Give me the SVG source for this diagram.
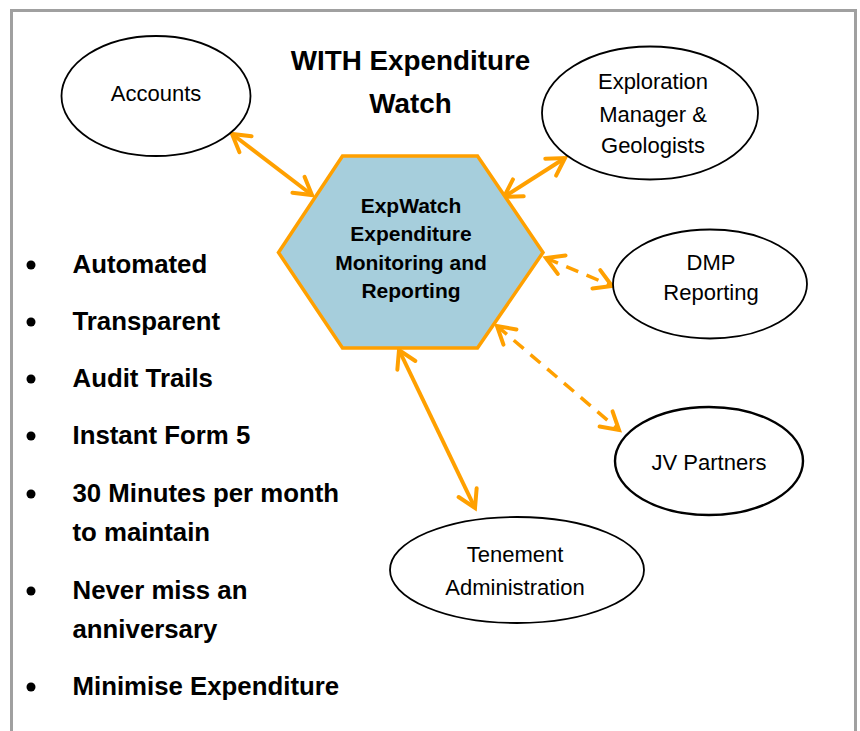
<svg xmlns="http://www.w3.org/2000/svg" width="860" height="731" viewBox="0 0 860 731">
<style>
.ell{fill:#fff;stroke:#000;stroke-width:1.8}
.lbl{font-family:"Liberation Sans",Arial,sans-serif;font-size:22px;fill:#000;text-anchor:middle}
.hex{fill:#A6CEDC;stroke:#FFA000;stroke-width:3.5;stroke-linejoin:miter}
.hext{font-family:"Liberation Sans",Arial,sans-serif;font-size:21px;font-weight:bold;fill:#000;text-anchor:middle}
.title{font-family:"Liberation Sans",Arial,sans-serif;font-size:27.8px;font-weight:bold;fill:#000;text-anchor:middle}
.bul{font-family:"Liberation Sans",Arial,sans-serif;font-size:25.8px;font-weight:bold;fill:#000}
.solid{fill:none;stroke:#FFA000;stroke-width:4;marker-start:url(#ah);marker-end:url(#ah)}
.dash{fill:none;stroke:#FFA000;stroke-width:3.5;stroke-dasharray:13 9;marker-start:url(#ah);marker-end:url(#ah)}
</style>
<defs>
<marker id="ah" markerUnits="userSpaceOnUse" viewBox="0 0 24 24" markerWidth="24" markerHeight="24" refX="20" refY="12" orient="auto-start-reverse" overflow="visible">
<path d="M3,2 L20,12 L3,22" fill="none" stroke="#FFA000" stroke-width="4" stroke-dasharray="none" stroke-linecap="round"/>
</marker>
</defs>
<rect x="0" y="0" width="860" height="731" fill="#fff"/>
<path d="M11.5,740 V10.5 H855.5 V740" fill="none" stroke="#A0A0A0" stroke-width="3"/>

<text class="title" x="410.5" y="70">WITH Expenditure</text>
<text class="title" x="410.5" y="113">Watch</text>

<g id="connectors">
<line class="solid" x1="232" y1="134" x2="312" y2="195"/>
<line class="solid" x1="504" y1="197" x2="565" y2="158"/>
<line class="dash" x1="546" y1="258" x2="612" y2="286"/>
<line class="dash" x1="497" y1="326" x2="619" y2="430"/>
<line class="solid" x1="399" y1="350" x2="475" y2="508"/>
</g>

<g id="hub">
<polygon class="hex" points="342.5,156 477.5,156 543,252.5 477.5,348 342.5,348 278.5,252.5"/>
<text class="hext" x="411" y="213">ExpWatch</text>
<text class="hext" x="411" y="241">Expenditure</text>
<text class="hext" x="411" y="270">Monitoring and</text>
<text class="hext" x="411" y="298">Reporting</text>
</g>

<g id="accounts">
<ellipse class="ell" cx="156" cy="96" rx="94.5" ry="60"/>
<text class="lbl" x="156" y="101">Accounts</text>
</g>

<g id="exploration">
<ellipse class="ell" cx="650" cy="113" rx="108" ry="66.5"/>
<text class="lbl" x="653" y="89">Exploration</text>
<text class="lbl" x="653" y="122">Manager &amp;</text>
<text class="lbl" x="653" y="153">Geologists</text>
</g>

<g id="dmp">
<ellipse class="ell" cx="710" cy="284" rx="97" ry="54.5"/>
<text class="lbl" x="711" y="270">DMP</text>
<text class="lbl" x="711" y="300">Reporting</text>
</g>

<g id="jv">
<ellipse class="ell" cx="709" cy="461" rx="94" ry="54" style="stroke-width:2.4"/>
<text class="lbl" x="709" y="470">JV Partners</text>
</g>

<g id="tenement">
<ellipse class="ell" cx="517" cy="570" rx="127" ry="53"/>
<text class="lbl" x="515" y="562">Tenement</text>
<text class="lbl" x="515" y="595">Administration</text>
</g>

<g id="bullets">
<circle cx="31" cy="265" r="4.5"/><text class="bul" x="72.5" y="273">Automated</text>
<circle cx="31" cy="322" r="4.5"/><text class="bul" x="72.5" y="330">Transparent</text>
<circle cx="31" cy="379" r="4.5"/><text class="bul" x="72.5" y="387">Audit Trails</text>
<circle cx="31" cy="436" r="4.5"/><text class="bul" x="72.5" y="444">Instant Form 5</text>
<circle cx="31" cy="494" r="4.5"/><text class="bul" x="72.5" y="502">30 Minutes per month</text>
<text class="bul" x="72.5" y="541">to maintain</text>
<circle cx="31" cy="591" r="4.5"/><text class="bul" x="72.5" y="599">Never miss an</text>
<text class="bul" x="72.5" y="638">anniversary</text>
<circle cx="31" cy="687" r="4.5"/><text class="bul" x="72.5" y="695">Minimise Expenditure</text>
</g>
</svg>
